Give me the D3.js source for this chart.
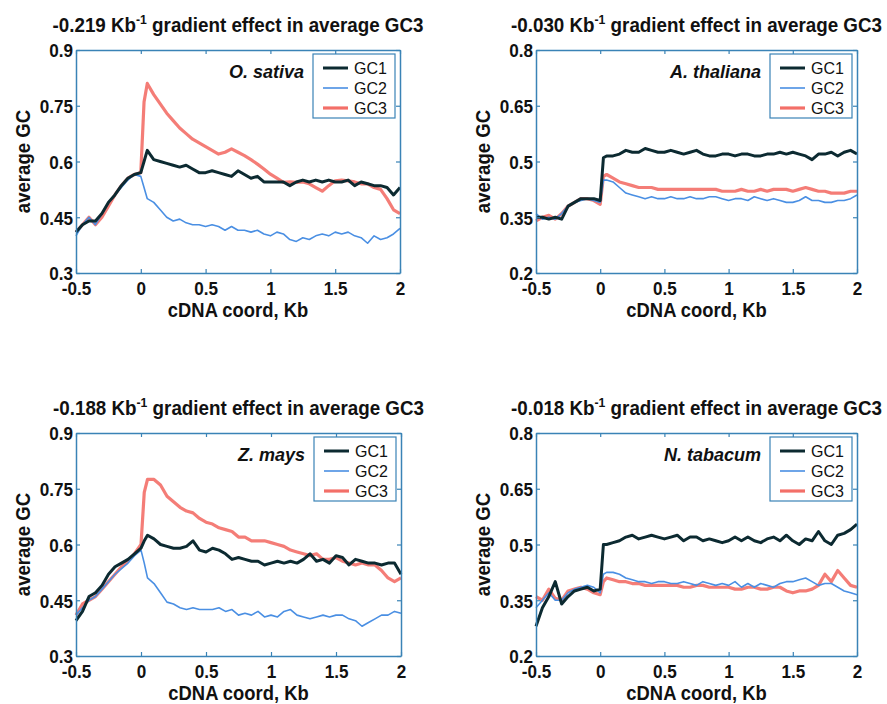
<!DOCTYPE html>
<html>
<head>
<meta charset="utf-8">
<script src="https://cdn.jsdelivr.net/npm/d3@7"></script>
<style>
  body { margin: 0; background: #fff; }
  svg { display: block; font-family: "Liberation Sans", Arial, Helvetica, sans-serif; }
</style>
</head>
<body>
<svg id="chart" width="887" height="704"></svg>
<script>
'use strict';

// cDNA coordinate (Kb) of every sample point, shared by all series
const coords = [-0.5, -0.45, -0.4, -0.35, -0.3, -0.25, -0.2, -0.15, -0.1, -0.05, 0, 0.025,
  0.05, 0.1, 0.15, 0.2, 0.25, 0.3, 0.35, 0.4, 0.45, 0.5,
  0.55, 0.6, 0.65, 0.7, 0.75, 0.8, 0.85, 0.9, 0.95, 1.0,
  1.05, 1.1, 1.15, 1.2, 1.25, 1.3, 1.35, 1.4, 1.45, 1.5,
  1.55, 1.6, 1.65, 1.7, 1.75, 1.8, 1.85, 1.9, 1.95, 2.0];

const seriesNames = ['GC1', 'GC2', 'GC3'];
const species = ['O. sativa', 'A. thaliana', 'Z. mays', 'N. tabacum'];
const gradients = ['-0.219', '-0.030', '-0.188', '-0.018'];

const xTicks = [-0.5, 0, 0.5, 1, 1.5, 2];
const xTickLabels = ['-0.5', '0', '0.5', '1', '1.5', '2'];
const yTicksA = [0.3, 0.45, 0.6, 0.75, 0.9];
const yTickLabelsA = ['0.3', '0.45', '0.6', '0.75', '0.9'];
const yTicksB = [0.2, 0.35, 0.5, 0.65, 0.8];
const yTickLabelsB = ['0.2', '0.35', '0.5', '0.65', '0.8'];

// O. sativa
const osGC1 = [0.41, 0.43, 0.44, 0.44, 0.46, 0.49, 0.51, 0.535, 0.555, 0.565, 0.57, 0.60,
  0.63, 0.605, 0.60, 0.595, 0.59, 0.585, 0.59, 0.58, 0.57, 0.57,
  0.575, 0.57, 0.565, 0.56, 0.575, 0.565, 0.555, 0.56, 0.545, 0.545,
  0.545, 0.545, 0.535, 0.545, 0.55, 0.545, 0.55, 0.545, 0.55, 0.545,
  0.545, 0.55, 0.535, 0.545, 0.54, 0.535, 0.535, 0.53, 0.51, 0.53];
const osGC2 = [0.40, 0.43, 0.45, 0.43, 0.46, 0.49, 0.51, 0.53, 0.55, 0.565, 0.56, 0.53,
  0.50, 0.49, 0.47, 0.45, 0.44, 0.445, 0.435, 0.43, 0.43, 0.425,
  0.43, 0.425, 0.415, 0.425, 0.415, 0.415, 0.41, 0.415, 0.405, 0.40,
  0.41, 0.405, 0.39, 0.385, 0.395, 0.39, 0.40, 0.405, 0.40, 0.41,
  0.405, 0.41, 0.40, 0.395, 0.38, 0.40, 0.39, 0.395, 0.405, 0.42];
const osGC3 = [0.41, 0.43, 0.45, 0.43, 0.45, 0.48, 0.51, 0.535, 0.555, 0.565, 0.57, 0.76,
  0.81, 0.78, 0.755, 0.73, 0.71, 0.69, 0.675, 0.66, 0.65, 0.64,
  0.63, 0.62, 0.625, 0.634, 0.625, 0.616, 0.605, 0.593, 0.58, 0.566,
  0.555, 0.544, 0.545, 0.544, 0.545, 0.54, 0.53, 0.52, 0.535, 0.548,
  0.55, 0.548, 0.545, 0.54, 0.54, 0.53, 0.525, 0.50, 0.47, 0.46];

// A. thaliana
const atGC1 = [0.35, 0.35, 0.345, 0.35, 0.345, 0.38, 0.39, 0.40, 0.40, 0.40, 0.395, 0.51,
  0.515, 0.515, 0.52, 0.53, 0.525, 0.525, 0.535, 0.53, 0.525, 0.525,
  0.53, 0.525, 0.52, 0.525, 0.53, 0.52, 0.515, 0.515, 0.52, 0.52,
  0.515, 0.52, 0.52, 0.515, 0.515, 0.52, 0.52, 0.525, 0.52, 0.525,
  0.52, 0.515, 0.505, 0.52, 0.52, 0.525, 0.515, 0.525, 0.53, 0.52];
const atGC2 = [0.36, 0.345, 0.35, 0.345, 0.36, 0.38, 0.39, 0.395, 0.40, 0.395, 0.39, 0.45,
  0.45, 0.445, 0.43, 0.415, 0.41, 0.405, 0.40, 0.405, 0.40, 0.40,
  0.405, 0.40, 0.40, 0.405, 0.40, 0.40, 0.405, 0.405, 0.40, 0.395,
  0.40, 0.40, 0.395, 0.405, 0.40, 0.395, 0.40, 0.395, 0.39, 0.39,
  0.395, 0.405, 0.395, 0.395, 0.39, 0.39, 0.395, 0.395, 0.40, 0.41];
const atGC3 = [0.34, 0.35, 0.355, 0.345, 0.36, 0.38, 0.39, 0.40, 0.40, 0.395, 0.385, 0.46,
  0.465, 0.455, 0.445, 0.44, 0.435, 0.43, 0.43, 0.43, 0.425, 0.425,
  0.425, 0.425, 0.425, 0.425, 0.425, 0.425, 0.425, 0.425, 0.42, 0.42,
  0.42, 0.425, 0.42, 0.42, 0.425, 0.42, 0.425, 0.425, 0.425, 0.42,
  0.425, 0.43, 0.425, 0.42, 0.42, 0.415, 0.415, 0.415, 0.42, 0.42];

// Z. mays
const zmGC1 = [0.395, 0.42, 0.46, 0.47, 0.49, 0.52, 0.54, 0.55, 0.56, 0.575, 0.59, 0.61,
  0.625, 0.615, 0.60, 0.595, 0.59, 0.59, 0.595, 0.61, 0.585, 0.58,
  0.59, 0.585, 0.575, 0.56, 0.565, 0.56, 0.555, 0.555, 0.545, 0.55,
  0.555, 0.55, 0.555, 0.55, 0.56, 0.575, 0.555, 0.56, 0.55, 0.57,
  0.565, 0.545, 0.56, 0.555, 0.55, 0.55, 0.545, 0.55, 0.55, 0.52];
const zmGC2 = [0.41, 0.43, 0.45, 0.46, 0.48, 0.50, 0.52, 0.535, 0.55, 0.57, 0.585, 0.55,
  0.51, 0.495, 0.47, 0.445, 0.44, 0.43, 0.425, 0.43, 0.425, 0.425,
  0.425, 0.43, 0.42, 0.425, 0.41, 0.415, 0.41, 0.42, 0.405, 0.41,
  0.405, 0.42, 0.425, 0.41, 0.405, 0.40, 0.405, 0.41, 0.405, 0.41,
  0.41, 0.40, 0.395, 0.38, 0.39, 0.40, 0.41, 0.41, 0.42, 0.415];
const zmGC3 = [0.41, 0.44, 0.45, 0.46, 0.48, 0.50, 0.52, 0.54, 0.555, 0.575, 0.60, 0.74,
  0.775, 0.775, 0.76, 0.73, 0.715, 0.70, 0.69, 0.685, 0.67, 0.66,
  0.655, 0.645, 0.64, 0.635, 0.62, 0.62, 0.61, 0.61, 0.61, 0.605,
  0.60, 0.595, 0.585, 0.58, 0.575, 0.57, 0.575, 0.56, 0.56, 0.565,
  0.555, 0.55, 0.545, 0.55, 0.545, 0.545, 0.53, 0.51, 0.50, 0.51];

// N. tabacum
const ntGC1 = [0.28, 0.33, 0.36, 0.40, 0.34, 0.36, 0.375, 0.38, 0.385, 0.375, 0.38, 0.50,
  0.50, 0.505, 0.51, 0.52, 0.525, 0.515, 0.52, 0.525, 0.52, 0.515,
  0.52, 0.525, 0.51, 0.52, 0.52, 0.51, 0.515, 0.51, 0.505, 0.51,
  0.52, 0.51, 0.52, 0.51, 0.505, 0.515, 0.52, 0.51, 0.525, 0.51,
  0.50, 0.515, 0.51, 0.535, 0.51, 0.50, 0.525, 0.53, 0.54, 0.555];
const ntGC2 = [0.33, 0.35, 0.37, 0.35, 0.35, 0.37, 0.38, 0.385, 0.39, 0.385, 0.37, 0.42,
  0.425, 0.425, 0.42, 0.41, 0.405, 0.40, 0.40, 0.395, 0.40, 0.40,
  0.395, 0.395, 0.40, 0.395, 0.39, 0.40, 0.395, 0.39, 0.395, 0.39,
  0.40, 0.385, 0.395, 0.385, 0.395, 0.39, 0.385, 0.395, 0.40, 0.40,
  0.405, 0.41, 0.40, 0.39, 0.395, 0.395, 0.385, 0.375, 0.37, 0.365];
const ntGC3 = [0.36, 0.35, 0.38, 0.355, 0.35, 0.375, 0.38, 0.385, 0.38, 0.37, 0.365, 0.40,
  0.41, 0.405, 0.40, 0.40, 0.395, 0.395, 0.39, 0.39, 0.39, 0.39,
  0.39, 0.39, 0.385, 0.385, 0.39, 0.39, 0.385, 0.385, 0.385, 0.385,
  0.38, 0.38, 0.385, 0.385, 0.38, 0.38, 0.385, 0.385, 0.375, 0.37,
  0.375, 0.375, 0.38, 0.39, 0.42, 0.40, 0.43, 0.41, 0.39, 0.385];

const axisColor = '#3a83b6';
const colors = ['#0c2a31', '#4a8fe3', '#f36f68'];
const widths = [3, 1.6, 3.2];

// layout of the four panels
const panels = [
  { i: 0, left: 76, right: 400, top: 50, bottom: 273, yDomain: [0.3, 0.9], yTicks: yTicksA, yLabels: yTickLabelsA, series: [osGC1, osGC2, osGC3] },
  { i: 1, left: 536, right: 857, top: 50, bottom: 273, yDomain: [0.2, 0.8], yTicks: yTicksB, yLabels: yTickLabelsB, series: [atGC1, atGC2, atGC3] },
  { i: 2, left: 76, right: 401, top: 433, bottom: 656, yDomain: [0.3, 0.9], yTicks: yTicksA, yLabels: yTickLabelsA, series: [zmGC1, zmGC2, zmGC3] },
  { i: 3, left: 536, right: 857, top: 433, bottom: 656, yDomain: [0.2, 0.8], yTicks: yTicksB, yLabels: yTickLabelsB, series: [ntGC1, ntGC2, ntGC3] }
];

const svg = d3.select('#chart');
const sx = 0.9; // horizontal squeeze of the bold tick labels

function styleAxis(a) {
  a.attr('font-size', null).attr('font-family', null);
  a.select('.domain').attr('stroke', axisColor).attr('stroke-width', 1.5);
  a.selectAll('.tick line').attr('stroke', axisColor).attr('stroke-width', 1.2);
  a.selectAll('.tick text')
    .style('font-size', '19px')
    .style('font-weight', 'bold')
    .attr('fill', '#111');
}

function drawPanel(p) {
  const g = svg.append('g');
  const x = d3.scaleLinear().domain([-0.5, 2]).range([p.left, p.right]);
  const y = d3.scaleLinear().domain(p.yDomain).range([p.bottom, p.top]);
  const cx = (p.left + p.right) / 2;

  // title with superscript
  const title = g.append('text')
    .attr('transform', 'translate(' + cx + ',' + (p.top - 18) + ') scale(0.94,1)')
    .attr('text-anchor', 'middle')
    .style('font-size', '20px')
    .style('font-weight', 'bold')
    .attr('fill', '#111');
  title.append('tspan').text(gradients[p.i] + ' Kb');
  title.append('tspan').attr('dy', -8).style('font-size', '13px').text('-1');
  title.append('tspan').attr('dy', 8).text(' gradient effect in average GC3');

  g.append('rect')
    .attr('x', p.left).attr('y', p.top)
    .attr('width', p.right - p.left).attr('height', p.bottom - p.top)
    .attr('fill', '#fff');

  // lines, GC3 first so GC1 sits on top
  const line = d3.line()
    .x((d, i) => x(coords[i]))
    .y((d) => y(d));
  [2, 1, 0].forEach((k) => {
    g.append('path')
      .datum(p.series[k])
      .attr('fill', 'none')
      .attr('stroke', colors[k])
      .attr('stroke-width', widths[k])
      .attr('stroke-linejoin', 'round')
      .attr('opacity', k === 2 ? 0.9 : 1)
      .attr('d', line);
  });

  // boxed axes with inward ticks
  const xb = g.append('g')
    .attr('transform', 'translate(0,' + p.bottom + ')')
    .call(d3.axisBottom(x).tickValues(xTicks).tickFormat((d, i) => xTickLabels[i]).tickSizeInner(-4).tickSizeOuter(0));
  styleAxis(xb);
  xb.selectAll('.tick text').attr('y', 22).attr('dy', 0).attr('transform', 'scale(' + sx + ',1)');

  const xt = g.append('g')
    .attr('transform', 'translate(0,' + p.top + ')')
    .call(d3.axisTop(x).tickValues(xTicks).tickFormat('').tickSizeInner(-4).tickSizeOuter(0));
  styleAxis(xt);

  const yl = g.append('g')
    .attr('transform', 'translate(' + p.left + ',0)')
    .call(d3.axisLeft(y).tickValues(p.yTicks).tickFormat((d, i) => p.yLabels[i]).tickSizeInner(-4).tickSizeOuter(0));
  styleAxis(yl);
  yl.selectAll('.tick text').attr('x', -3 / sx).attr('dy', '0.36em').attr('transform', 'scale(' + sx + ',1)');

  const yr = g.append('g')
    .attr('transform', 'translate(' + p.right + ',0)')
    .call(d3.axisRight(y).tickValues(p.yTicks).tickFormat('').tickSizeInner(-4).tickSizeOuter(0));
  styleAxis(yr);

  // axis titles
  g.append('text')
    .attr('transform', 'translate(' + cx + ',' + (p.bottom + 44) + ') scale(0.92,1)')
    .attr('text-anchor', 'middle')
    .style('font-size', '20px')
    .style('font-weight', 'bold')
    .attr('fill', '#111')
    .text('cDNA coord, Kb');

  g.append('text')
    .attr('transform', 'translate(' + (p.left - 46) + ',' + ((p.top + p.bottom) / 2) + ') rotate(-90) scale(0.93,1)')
    .attr('text-anchor', 'middle')
    .style('font-size', '20px')
    .style('font-weight', 'bold')
    .attr('fill', '#111')
    .text('average GC');

  // species name
  g.append('text')
    .attr('x', p.right - 96)
    .attr('y', p.top + 28)
    .attr('text-anchor', 'end')
    .style('font-size', '18px')
    .style('font-weight', 'bold')
    .style('font-style', 'italic')
    .attr('fill', '#111')
    .text(species[p.i]);

  // legend
  const lg = g.append('g').attr('transform', 'translate(' + (p.right - 87) + ',' + (p.top + 4) + ')');
  lg.append('rect')
    .attr('width', 82).attr('height', 64)
    .attr('fill', '#fff')
    .attr('stroke', axisColor).attr('stroke-width', 1.2);
  seriesNames.forEach((name, k) => {
    const yy = 14 + k * 20;
    lg.append('line')
      .attr('x1', 10).attr('x2', 35).attr('y1', yy).attr('y2', yy)
      .attr('stroke', colors[k]).attr('stroke-width', widths[k]);
    lg.append('text')
      .attr('x', 41).attr('y', yy + 6)
      .style('font-size', '16px')
      .attr('fill', '#111')
      .text(name);
  });
}

panels.forEach(drawPanel);
</script>
</body>
</html>
